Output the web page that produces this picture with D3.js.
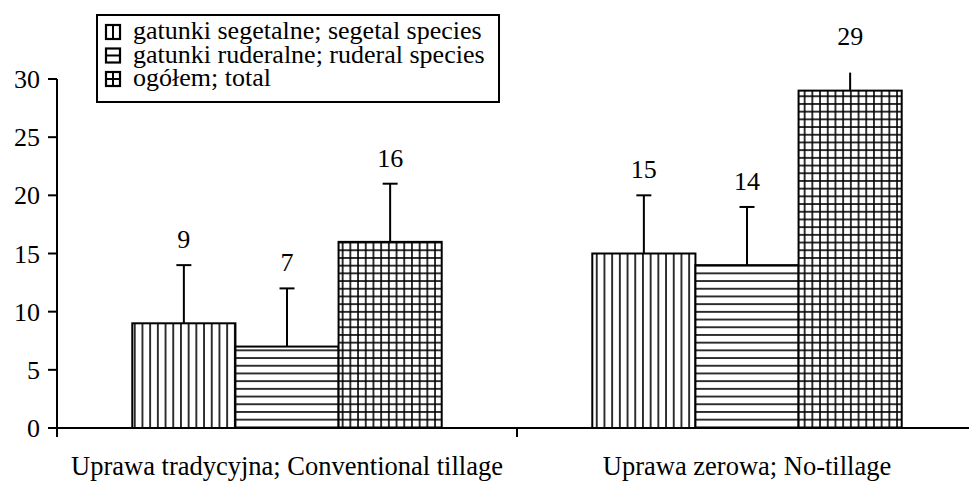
<!doctype html>
<html>
<head>
<meta charset="UTF-8">
<script src="https://d3js.org/d3.v7.min.js"></script>
<style>body{margin:0; font-family: "Liberation Serif", serif;}</style>
</head>
<body>
<script>
var font = "Liberation Serif, Times New Roman, serif";

// data
var categories = ["Uprawa tradycyjna; Conventional tillage", "Uprawa zerowa; No-tillage"];
var series = ["gatunki segetalne; segetal species", "gatunki ruderalne; ruderal species", "ogółem; total"];
var segetal = [9, 15];
var ruderal = [7, 14];
var total = [16, 29];
var errors = [5, 5, 5];
var yTicks = [0, 5, 10, 15, 20, 25, 30];
var patterns = ["vert", "horiz", "grid"];

var values = [segetal, ruderal, total];

var svg = d3.select("body").append("svg").attr("width", 969).attr("height", 482);

function label(x, y, txt, size, anchor) {
	return svg.append("text")
		.attr("x", x)
		.attr("y", y)
		.attr("font-family", font)
		.attr("font-size", size)
		.attr("text-anchor", anchor)
		.text(txt);
}

// hatch patterns
var defs = svg.append("defs");
var step = 7.7;
patterns.forEach(function (id) {
	var p = defs.append("pattern")
		.attr("id", id)
		.attr("patternUnits", "userSpaceOnUse")
		.attr("width", step)
		.attr("height", step);
	p.append("rect").attr("width", step).attr("height", step).attr("fill", "#fff");
	if (id != "horiz") {
		p.append("line").attr("x1", step / 2).attr("x2", step / 2)
			.attr("y1", 0).attr("y2", step)
			.attr("stroke", "#000").attr("stroke-width", 1.6);
	}
	if (id != "vert") {
		p.append("line").attr("y1", step / 2).attr("y2", step / 2)
			.attr("x1", 0).attr("x2", step)
			.attr("stroke", "#000").attr("stroke-width", 1.6);
	}
});

var yScale = d3.scaleLinear().domain([0, 30]).range([428, 79]);
var plotTop = yScale(30.55);

var x0 = d3.scaleBand().domain(categories).range([57, 977]);
var x1 = d3.scaleBand().domain(series).range([0, x0.bandwidth()])
	.paddingInner(0).paddingOuter(0.73);

// bars, error bars (upper only, clipped to plot area) and value labels
categories.forEach(function (c, ci) {
	series.forEach(function (s, si) {
		var v = values[si][ci];
		var bx = x0(c) + x1(s);
		var cx = bx + x1.bandwidth() / 2;
		svg.append("rect")
			.attr("x", bx)
			.attr("y", yScale(v))
			.attr("width", x1.bandwidth())
			.attr("height", yScale(0) - yScale(v))
			.attr("fill", "url(#" + patterns[si] + ")")
			.attr("stroke", "#000")
			.attr("stroke-width", 2);

		var top = yScale(v + errors[si]);
		svg.append("line")
			.attr("x1", cx).attr("x2", cx)
			.attr("y1", yScale(v)).attr("y2", Math.max(top, plotTop))
			.attr("stroke", "#000").attr("stroke-width", 2);
		if (top >= plotTop) {
			svg.append("line")
				.attr("x1", cx - 7.5).attr("x2", cx + 7.5)
				.attr("y1", top).attr("y2", top)
				.attr("stroke", "#000").attr("stroke-width", 2);
		}
		label(cx, Math.max(top - 17, 45), v, 26, "middle");
	});
});

// y axis
svg.append("line")
	.attr("x1", 57).attr("x2", 57)
	.attr("y1", yScale(30)).attr("y2", yScale(0))
	.attr("stroke", "#000").attr("stroke-width", 2);
yTicks.forEach(function (t) {
	svg.append("line")
		.attr("x1", 48).attr("x2", 57)
		.attr("y1", yScale(t)).attr("y2", yScale(t))
		.attr("stroke", "#000").attr("stroke-width", 2);
	label(40, yScale(t) + 9, t, 26, "end");
});

// x axis with ticks between categories
svg.append("line")
	.attr("x1", x0.range()[0]).attr("x2", x0.range()[1])
	.attr("y1", yScale(0)).attr("y2", yScale(0))
	.attr("stroke", "#000").attr("stroke-width", 2);
categories.forEach(function (c) {
	svg.append("line")
		.attr("x1", x0(c)).attr("x2", x0(c))
		.attr("y1", yScale(0)).attr("y2", yScale(0) + 9)
		.attr("stroke", "#000").attr("stroke-width", 2);
	label(x0(c) + x0.bandwidth() / 2, 475, c, 26.5, "middle");
});

// legend
var lx = 97, ly = 15;
svg.append("rect")
	.attr("x", lx).attr("y", ly)
	.attr("width", 402).attr("height", 87)
	.attr("fill", "#fff").attr("stroke", "#000").attr("stroke-width", 2);

series.forEach(function (s, si) {
	var sx = lx + 9, sy = ly + 10 + si * 23.5;
	svg.append("rect")
		.attr("x", sx).attr("y", sy)
		.attr("width", 14).attr("height", 14)
		.attr("fill", "#fff").attr("stroke", "#000").attr("stroke-width", 2.2);
	if (patterns[si] != "horiz") {
		svg.append("line").attr("x1", sx + 7).attr("x2", sx + 7).attr("y1", sy).attr("y2", sy + 14)
			.attr("stroke", "#000").attr("stroke-width", 2);
	}
	if (patterns[si] != "vert") {
		svg.append("line").attr("x1", sx).attr("x2", sx + 14).attr("y1", sy + 7).attr("y2", sy + 7)
			.attr("stroke", "#000").attr("stroke-width", 2);
	}
	label(sx + 27, sy + 14, s, 26, "start");
});
</script>
</body>
</html>
